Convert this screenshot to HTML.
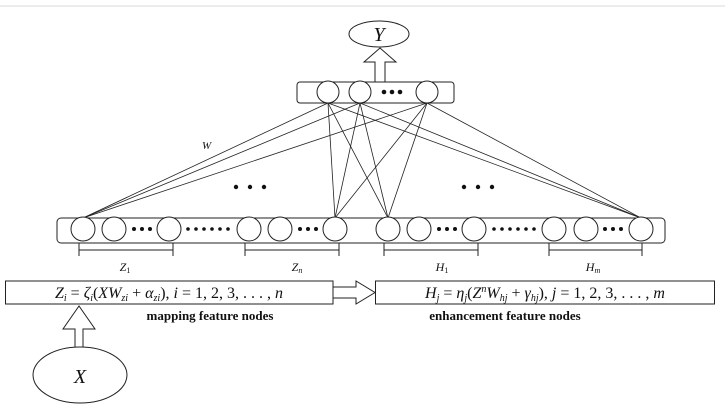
<!DOCTYPE html>
<html><head><meta charset="utf-8"><style>
html,body{margin:0;padding:0;background:#fff;}
svg{display:block;}
text{font-family:"Liberation Serif",serif;fill:#111;}
.i{font-style:italic;}
</style></head><body>
<svg width="725" height="405" viewBox="0 0 725 405" xmlns="http://www.w3.org/2000/svg">
<line x1="0" y1="6" x2="725" y2="6" stroke="#e6e6e6" stroke-width="1.5"/>
<g fill="none" stroke="#222" stroke-width="1">
<ellipse cx="379" cy="34" rx="30" ry="13"/>
<path d="M375 82 V62 H364 L380 48 L396 62 H385 V82"/>
<rect x="297" y="82" width="157" height="21" rx="3"/>
<circle cx="328" cy="92" r="11" fill="#fff"/>
<circle cx="360" cy="92" r="11" fill="#fff"/>
<circle cx="427" cy="92" r="11" fill="#fff"/>
<g stroke-width="0.8">
<line x1="328" y1="103" x2="83" y2="218"/><line x1="360" y1="103" x2="83" y2="218"/><line x1="427" y1="103" x2="83" y2="218"/>
<line x1="328" y1="103" x2="335" y2="218"/><line x1="360" y1="103" x2="335" y2="218"/><line x1="427" y1="103" x2="335" y2="218"/>
<line x1="328" y1="103" x2="388" y2="218"/><line x1="360" y1="103" x2="388" y2="218"/><line x1="427" y1="103" x2="388" y2="218"/>
<line x1="328" y1="103" x2="641" y2="218"/><line x1="360" y1="103" x2="641" y2="218"/><line x1="427" y1="103" x2="641" y2="218"/>
</g>
<rect x="57" y="218" width="608" height="25" rx="4"/>
<g fill="#fff">
<circle cx="83" cy="229" r="12"/><circle cx="114" cy="229" r="12"/><circle cx="169" cy="229" r="12"/>
<circle cx="249" cy="229" r="12"/><circle cx="280" cy="229" r="12"/><circle cx="335" cy="229" r="12"/>
<circle cx="388" cy="229" r="12"/><circle cx="419" cy="229" r="12"/><circle cx="474" cy="229" r="12"/>
<circle cx="554" cy="229" r="12"/><circle cx="586" cy="229" r="12"/><circle cx="641" cy="229" r="12"/>
</g>
<path d="M79 243 V256 M79 250 H173 M173 243 V256"/>
<path d="M245 243 V256 M245 250 H339 M339 243 V256"/>
<path d="M384 243 V256 M384 250 H478 M478 243 V256"/>
<path d="M549 243 V256 M549 250 H642 M642 243 V256"/>
<rect x="5.5" y="281" width="327.5" height="23"/>
<rect x="375.5" y="281" width="339" height="23"/>
<path d="M333 287 H356 V281 L375 292.5 L356 304 V298 H333"/>
<path d="M75 347 V329 H63 L79 306 L95 329 H83 V347"/>
<ellipse cx="80" cy="375" rx="47" ry="28"/>
</g>
<g fill="#111">
<circle cx="384" cy="92" r="2.3"/><circle cx="392" cy="92" r="2.3"/><circle cx="400" cy="92" r="2.3"/>
<circle cx="134" cy="229" r="2"/><circle cx="142" cy="229" r="2"/><circle cx="150" cy="229" r="2"/>
<circle cx="188" cy="229" r="1.8"/><circle cx="196" cy="229" r="1.8"/><circle cx="204" cy="229" r="1.8"/><circle cx="212" cy="229" r="1.8"/><circle cx="220" cy="229" r="1.8"/><circle cx="228" cy="229" r="1.8"/>
<circle cx="300" cy="229" r="2"/><circle cx="308" cy="229" r="2"/><circle cx="316" cy="229" r="2"/>
<circle cx="439" cy="229" r="2"/><circle cx="447" cy="229" r="2"/><circle cx="455" cy="229" r="2"/>
<circle cx="494" cy="229" r="1.8"/><circle cx="502" cy="229" r="1.8"/><circle cx="510" cy="229" r="1.8"/><circle cx="518" cy="229" r="1.8"/><circle cx="526" cy="229" r="1.8"/><circle cx="534" cy="229" r="1.8"/>
<circle cx="605" cy="229" r="2"/><circle cx="613" cy="229" r="2"/><circle cx="621" cy="229" r="2"/>
<circle cx="236" cy="187" r="2.2"/><circle cx="250" cy="187" r="2.2"/><circle cx="264" cy="187" r="2.2"/>
<circle cx="464" cy="187" r="2.2"/><circle cx="478" cy="187" r="2.2"/><circle cx="492" cy="187" r="2.2"/>
</g>
<text x="379" y="41" font-size="20" text-anchor="middle" class="i">Y</text>
<text x="202" y="149" font-size="11" class="i">W</text>
<text x="125" y="271" font-size="12" text-anchor="middle" class="i">Z<tspan font-size="8" dy="2" font-style="normal">1</tspan></text>
<text x="297" y="271" font-size="12" text-anchor="middle" class="i">Z<tspan font-size="8" dy="2">n</tspan></text>
<text x="442" y="271" font-size="12" text-anchor="middle" class="i">H<tspan font-size="8" dy="2" font-style="normal">1</tspan></text>
<text x="593" y="271" font-size="12" text-anchor="middle" class="i">H<tspan font-size="8" dy="2">m</tspan></text>
<text x="169" y="298" font-size="16" text-anchor="middle"><tspan class="i">Z</tspan><tspan class="i" font-size="10" dy="3">i</tspan><tspan dy="-3"> = </tspan><tspan class="i">ζ</tspan><tspan class="i" font-size="10" dy="3">i</tspan><tspan dy="-3">(</tspan><tspan class="i">XW</tspan><tspan class="i" font-size="10" dy="3">zi</tspan><tspan dy="-3"> + </tspan><tspan class="i">α</tspan><tspan class="i" font-size="10" dy="3">zi</tspan><tspan dy="-3">), </tspan><tspan class="i">i</tspan><tspan> = 1, 2, 3, . . . , </tspan><tspan class="i">n</tspan></text>
<text x="545" y="298" font-size="16" text-anchor="middle"><tspan class="i">H</tspan><tspan class="i" font-size="10" dy="3">j</tspan><tspan dy="-3"> = </tspan><tspan class="i">η</tspan><tspan class="i" font-size="10" dy="3">j</tspan><tspan dy="-3">(</tspan><tspan class="i">Z</tspan><tspan class="i" font-size="10" dy="-6">n</tspan><tspan class="i" dy="6">W</tspan><tspan class="i" font-size="10" dy="3">hj</tspan><tspan dy="-3"> + </tspan><tspan class="i">γ</tspan><tspan class="i" font-size="10" dy="3">hj</tspan><tspan dy="-3">), </tspan><tspan class="i">j</tspan><tspan> = 1, 2, 3, . . . , </tspan><tspan class="i">m</tspan></text>
<text x="210" y="320" font-size="13" font-weight="bold" text-anchor="middle">mapping feature nodes</text>
<text x="505" y="320" font-size="13" font-weight="bold" text-anchor="middle">enhancement feature nodes</text>
<text x="80" y="383" font-size="20" text-anchor="middle" class="i">X</text>
</svg>
</body></html>
